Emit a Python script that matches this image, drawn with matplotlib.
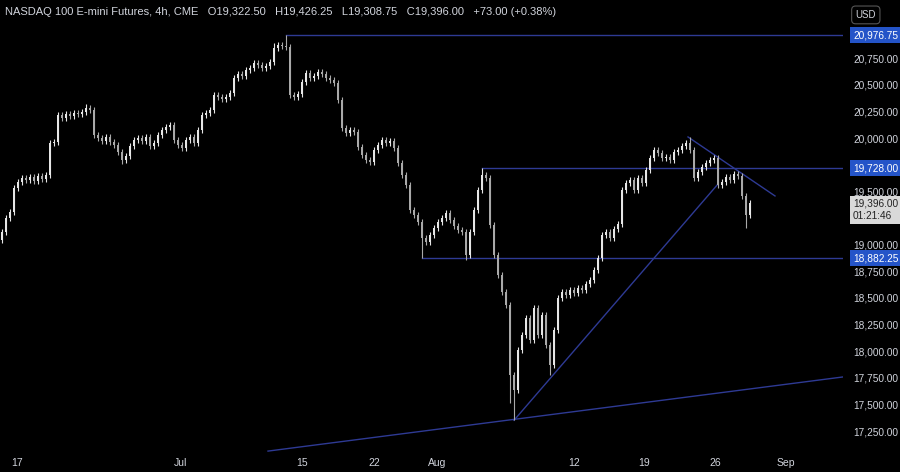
import matplotlib.pyplot as plt
import matplotlib.transforms as mtransforms
import numpy as np

# 4h closes, NASDAQ 100 E-mini futures
closes = [
    19128, 19259, 19315, 19541, 19597, 19635, 19616, 19644, 19606, 19653,
    19625, 19663, 19963, 19973, 20226, 20198, 20235, 20217, 20245, 20235,
    20254, 20292, 20273, 20038, 20010, 19982, 20019, 19973, 19944, 19879,
    19804, 19841, 19935, 19991, 20010, 19982, 20019, 19935, 19963, 20038,
    20085, 20113, 20132, 19991, 19944, 19916, 19991, 20019, 19963, 20085,
    20226, 20245, 20273, 20414, 20395, 20376, 20395, 20432, 20573, 20611,
    20592, 20648, 20667, 20714, 20695, 20667, 20686, 20723, 20855, 20883,
    20874, 20864, 20414, 20395, 20423, 20536, 20620, 20573, 20592, 20630,
    20611, 20573, 20555, 20526, 20367, 20104, 20057, 20085, 20066, 19926,
    19850, 19804, 19785, 19897, 19944, 19991, 19963, 19982, 19916, 19775,
    19663, 19569, 19334, 19287, 19222, 19071, 19034, 19099, 19165, 19222,
    19259, 19306, 19240, 19184, 19146, 19128, 18912, 19128, 19334, 19522,
    19663, 19635, 19193, 18912, 18724, 18564, 18442, 17785, 17644, 18020,
    18161, 18320, 18114, 18414, 18161, 18348, 18067, 17879, 18208, 18508,
    18564, 18536, 18583, 18555, 18602, 18583, 18640, 18677, 18771, 18884,
    19099, 19128, 19071, 19156, 19203, 19522, 19588, 19616, 19522, 19635,
    19588, 19710, 19822, 19897, 19869, 19822, 19832, 19804, 19879, 19897,
    19935, 19963, 19897, 19635, 19691, 19738, 19775, 19804, 19822, 19569,
    19597, 19644, 19616, 19672, 19653, 19466, 19287, 19396,
]
first_open = 19053
wick = 30
high_marks = {71: 20976.75, 120: 19728.0, 172: 20020.0, 21: 20330, 68: 20900}
low_marks = {128: 17360.0, 127: 17520, 137: 17785.0, 116: 18865.0, 105: 18882.25,
             186: 19165.0, 30: 19770}

levels = [20976.75, 19728.00, 18882.25]
level_start = [71, 120, 105]
up_trend = [(128, 17360.0), (179, 19578.0)]
down_trend = [(171.5, 20020.0), (193.25, 19466.0)]
support = [(66.5, 17071.0), (210.25, 17767.0)]

price_ticks = [20750, 20500, 20250, 20000, 19500, 19000, 18750, 18500,
               18250, 18000, 17750, 17500, 17250]
date_pos = [3.75, 44.5, 75, 93, 108.75, 143, 160.5, 178.25, 196]
date_labels = ["17", "Jul", "15", "22", "Aug", "12", "19", "26", "Sep"]

last_close = 19396.00
countdown = "01:21:46"
header = ("NASDAQ 100 E-mini Futures, 4h, CME   O19,322.50   H19,426.25   "
          "L19,308.75   C19,396.00   +73.00 (+0.38%)")

txt = "#d1d4dc"
line_col = "#2e3a94"
lab_font = "Liberation Sans"

closes = np.array(closes, dtype=float)
opens = np.concatenate([[first_open], closes[:-1]])
highs = np.maximum(opens, closes) + wick
lows = np.minimum(opens, closes) - wick
for k, v in high_marks.items():
    highs[k] = v
for k, v in low_marks.items():
    lows[k] = v
idx = np.arange(len(closes))

fig = plt.figure(figsize=(9, 4.72), dpi=100, facecolor="black")
ax = fig.add_axes([0, 20 / 472, 843 / 900, 452 / 472])
ax.set_facecolor("black")

up = closes >= opens
cols = np.where(up, "#e6e6e6", "#a9a9a9")
ax.vlines(idx, lows, highs, colors=cols, linewidth=0.8, zorder=3)
body_h = np.maximum(np.abs(closes - opens), 6)
ax.bar(idx, body_h, bottom=np.minimum(opens, closes), width=0.65,
       color=cols, linewidth=0, zorder=4)

xmax = 210.25
for lv, st in zip(levels, level_start):
    ax.plot([st, xmax], [lv, lv], color=line_col, linewidth=1, zorder=2)
for seg in (up_trend, down_trend, support):
    ax.plot([seg[0][0], seg[1][0]], [seg[0][1], seg[1][1]],
            color=line_col, linewidth=1, zorder=2)

ax.set_xlim(-0.5, xmax)
ax.set_ylim(17062.5, 21305.5)
for s in ax.spines.values():
    s.set_visible(False)
ax.set_yticks([])
ax.set_xticks(date_pos)
ax.set_xticklabels(date_labels, color=txt, fontsize=7.5, family=lab_font)
ax.tick_params(axis="x", length=0, pad=4)

tr = mtransforms.blended_transform_factory(ax.transAxes, ax.transData)
for p in price_ticks:
    ax.text(1.012, p, f"{p:,.2f}", transform=tr, color=txt, fontsize=7.3,
            family=lab_font, va="center", ha="left", clip_on=False)
for lv in levels:
    ax.text(1.012, lv, f"{lv:,.2f}", transform=tr, color="white", fontsize=7.3,
            family=lab_font, va="center", ha="left", clip_on=False,
            bbox=dict(boxstyle="square,pad=0.3", fc="#2454c8", ec="none"))
ax.text(1.012, last_close - 60, f"{last_close:,.2f}\n{countdown}", transform=tr,
        color="#222222", fontsize=7.3, family=lab_font, va="center", ha="left",
        clip_on=False, linespacing=1.3,
        bbox=dict(boxstyle="square,pad=0.3", fc="#d9d9d9", ec="none"))

fig.text(0.006, 0.985, header, color=txt, fontsize=8, family=lab_font,
         va="top", ha="left")
fig.text(0.962, 0.979, "USD", color=txt, fontsize=7, family=lab_font,
         va="top", ha="center",
         bbox=dict(boxstyle="round,pad=0.4", fc="black", ec="#555555", lw=0.8))

fig.savefig("out.png", dpi=100, facecolor="black")
